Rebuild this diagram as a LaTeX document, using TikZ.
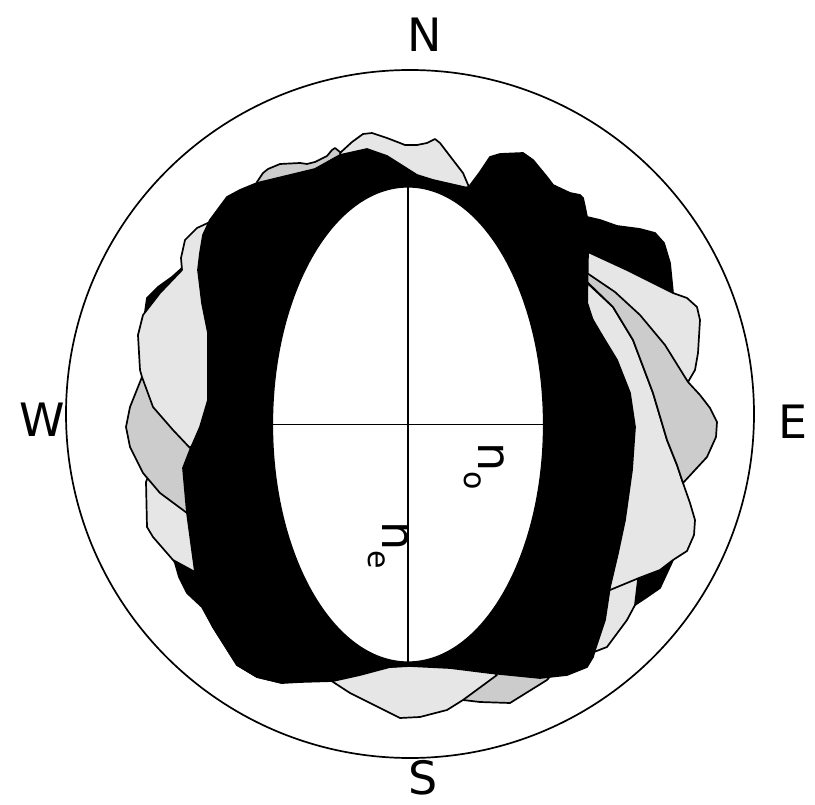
\documentclass[tikz,border=0pt]{standalone}
\usepackage{fontspec}
\setmainfont{DejaVu Sans}
\definecolor{lightg}{RGB}{230,230,230}
\definecolor{midg}{RGB}{204,204,204}
\begin{document}
\begin{tikzpicture}[x=1pt,y=-1pt,line join=round,
  lg/.style={fill=lightg,draw=black,line width=1.7pt},
  mg/.style={fill=midg,draw=black,line width=1.7pt},
  bk/.style={fill=black,draw=black,line width=1.7pt},
  lbl/.style={inner sep=0pt,font=\fontsize{46}{48}\selectfont},
  idx/.style={inner sep=0pt,font=\fontsize{46}{48}\selectfont,rotate=-90}]
\useasboundingbox (0,0) rectangle (815,805);
% back black
\path[bk] (182,268) -- (190,250) -- (215,225) -- (300,200) -- (500,195) -- (587,217) -- (600,220) -- (617,226) -- (640,229) -- (655,233) -- (664,243) -- (670,263) -- (673,293) -- (660,330) -- (665,500) -- (673,560) -- (660,588) -- (647,597) -- (635,605) -- (615,625) -- (598,630) -- (590,650) -- (450,650) -- (330,670) -- (282,683) -- (257,677) -- (237,665) -- (213,627) -- (202,607) -- (187,593) -- (179,577) -- (175,563) -- (160,535) -- (155,480) -- (135,430) -- (148,340) -- (145,312) -- (147,298) -- (158,287) -- (172,277) -- cycle;
% left greys
\path[lg] (150,472) -- (146,482) -- (147,527) -- (153,537) -- (173,560) -- (195,572) -- (200,530) -- (200,480) -- (170,470) -- cycle;
\path[mg] (142,377) -- (130,407) -- (126,427) -- (130,447) -- (143,473) -- (160,493) -- (187,513) -- (200,470) -- (210,420) -- (170,380) -- cycle;
\path[lg] (210,222) -- (197,228) -- (185,240) -- (181,258) -- (182,270) -- (160,293) -- (143,315) -- (138,335) -- (140,370) -- (142,377) -- (153,407) -- (173,430) -- (190,448) -- (215,420) -- (220,300) -- (220,230) -- (212,220) -- cycle;
% top greys
\path[mg] (257,182) -- (263,173) -- (268,169) -- (280,164) -- (300,163) -- (307,164) -- (315,162) -- (327,156) -- (332,150) -- (335,148) -- (340,152) -- (345,156) -- (360,175) -- (300,190) -- (255,195) -- cycle;
\path[lg] (340,153) -- (352,142) -- (363,134) -- (372,133) -- (387,138) -- (400,143) -- (405,145) -- (417,145) -- (427,143) -- (435,139) -- (440,143) -- (453,160) -- (463,173) -- (469,187) -- (430,195) -- (360,180) -- (342,158) -- cycle;
% right greys
\path[lg] (588,252) -- (627,270) -- (673,293) -- (687,298) -- (697,307) -- (700,320) -- (698,353) -- (695,370) -- (688,382) -- (660,350) -- (620,310) -- (584,275) -- cycle;
\path[lg] (640,568) -- (638,580) -- (635,605) -- (627,620) -- (607,647) -- (594,652) -- (588,650) -- (592,600) -- (605,585) -- cycle;
\path[lg] (584,280) -- (613,307) -- (633,340) -- (653,393) -- (667,440) -- (677,465) -- (683,483) -- (690,503) -- (695,520) -- (694,535) -- (687,551) -- (673,560) -- (660,570) -- (639,578) -- (610,590) -- (603,595) -- (622,520) -- (628,430) -- (620,380) -- (596,330) -- (583,290) -- cycle;
\path[mg] (584,271) -- (615,292) -- (640,315) -- (665,345) -- (688,382) -- (700,395) -- (710,408) -- (717,422) -- (716,437) -- (707,457) -- (695,470) -- (683,483) -- (677,465) -- (667,440) -- (653,393) -- (633,340) -- (613,307) -- (584,279) -- cycle;
% bottom greys
\path[mg] (455,690) -- (463,700) -- (480,702) -- (510,703) -- (547,680) -- (560,665) -- (500,660) -- cycle;
\path[lg] (330,680) -- (350,693) -- (370,703) -- (400,718) -- (420,717) -- (447,710) -- (463,700) -- (497,675) -- (480,660) -- (350,670) -- cycle;
% main black band
\path[bk] (200,253) -- (203,235) -- (210,220) -- (227,197) -- (240,190) -- (257,183) -- (315,169) -- (340,155) -- (367,149) -- (387,156) -- (417,175) -- (433,180) -- (468,188) -- (480,172) -- (490,157) -- (500,154) -- (523,153) -- (533,160) -- (547,177) -- (553,185) -- (570,193) -- (580,195) -- (583,198) -- (585,207) -- (587,217) -- (588,252) -- (587,310) -- (603,337) -- (617,360) -- (630,393) -- (635,427) -- (632,470) -- (625,520) -- (618,553) -- (610,587) -- (605,620) -- (600,635) -- (595,650) -- (593,657) -- (587,667) -- (567,675) -- (540,678) -- (490,673) -- (450,668) -- (410,666) -- (390,667) -- (360,675) -- (333,681) -- (300,682) -- (282,683) -- (257,677) -- (237,665) -- (213,627) -- (203,607) -- (197,585) -- (195,572) -- (187,513) -- (183,468) -- (190,450) -- (200,427) -- (208,400) -- (208,333) -- (202,303) -- (198,270) -- cycle;
% indicatrix
\path[fill=white,draw=black,line width=1.2pt] (408,424.5) ellipse [x radius=135.5,y radius=237.5];
\coordinate (top) at (408,187);
\coordinate (bot) at (408,662);
\coordinate (lft) at (272.5,424.5);
\coordinate (rgt) at (543.5,424.5);
\draw[line width=1.7pt] (top) -- (bot);
\draw[line width=1.7pt] (lft) -- (rgt);
% primitive circle
\draw[line width=1.7pt] (410,414) circle [radius=344];
% labels
\node[lbl] (N) at (425,35) {N};
\node[lbl] (S) at (423,778) {S};
\node[lbl] (W) at (42,420) {W};
\node[lbl] (E) at (793,422) {E};
\node[idx] (no) at (484,466) {n\raisebox{-0.3em}{\fontsize{30}{30}\selectfont o}};
\node[idx] (ne) at (388,545) {n\raisebox{-0.3em}{\fontsize{30}{30}\selectfont e}};
\end{tikzpicture}
\end{document}
